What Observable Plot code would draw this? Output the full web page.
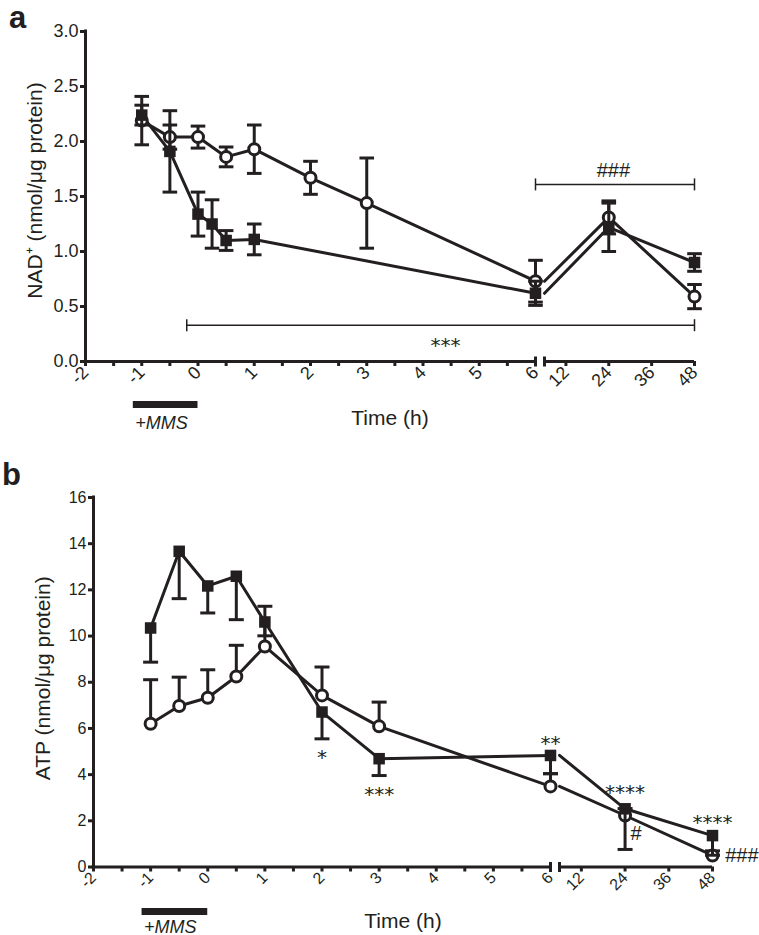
<!DOCTYPE html>
<html>
<head>
<meta charset="utf-8">
<script src="https://cdn.jsdelivr.net/npm/d3@7"></script>
<script src="https://cdn.jsdelivr.net/npm/@observablehq/plot@0.6"></script>
<style>
  body { margin: 0; background: #fff; }
  #chart svg { display: block; }
  #chart g[aria-label$="axis tick"] { stroke-width: 3px; }
  #chart .tick line { stroke-width: 3px; }
</style>
</head>
<body>
<div id="chart"></div>
<script>
const INK = "#231f20";

// ---------- Panel a: NAD+ (nmol/µg protein) ----------
const nadSquareTime = [-1, -0.5, 0, 0.25, 0.5, 1, 6, 24, 48];
const nadSquare     = [2.24, 1.91, 1.34, 1.25, 1.10, 1.11, 0.62, 1.22, 0.90];
const nadSquareErr  = [0.09, 0.37, 0.20, 0.22, 0.09, 0.14, 0.11, 0.22, 0.08];
const nadCircleTime = [-1, -0.5, 0, 0.5, 1, 2, 3, 6, 24, 48];
const nadCircle     = [2.19, 2.04, 2.04, 1.86, 1.93, 1.67, 1.44, 0.73, 1.31, 0.59];
const nadCircleErr  = [0.22, 0.11, 0.10, 0.09, 0.22, 0.15, 0.41, 0.19, 0.15, 0.11];
const nadYTicks = [0, 0.5, 1, 1.5, 2, 2.5, 3];
const nadBrackets = [
  {from: -0.2, to: 48, y: 0.33},
  {from: 6, to: 48, y: 1.61}
];
const nadStars  = [{t: 4.4, y: 0.19, label: "***"}];
const nadHashes = [{t: 25.3, y: 1.74, label: "###"}];

// ---------- Panel b: ATP (nmol/µg protein) ----------
const atpTime      = [-1, -0.5, 0, 0.5, 1, 2, 3, 6, 24, 48];
const atpSquare    = [10.35, 13.67, 12.17, 12.59, 10.61, 6.71, 4.69, 4.83, 2.52, 1.36];
const atpSquareErr = [1.48, 2.05, 1.17, 1.88, 0.60, 1.16, 0.73, 0.79, 1.76, 0.85];
const atpCircle    = [6.20, 6.97, 7.33, 8.25, 9.55, 7.43, 6.09, 3.49, 2.23, 0.50];
const atpCircleErr = [1.91, 1.25, 1.21, 1.35, 1.74, 1.23, 1.05, 0.55, 0.30, 0.20];
const atpYTicks = [0, 2, 4, 6, 8, 10, 12, 14, 16];
const atpStars = [
  {t: 2, y: 4.96, label: "*"},
  {t: 3, y: 3.36, label: "***"},
  {t: 6, y: 5.55, label: "**"},
  {t: 24, y: 3.45, label: "****"},
  {t: 48, y: 2.15, label: "****"}
];
const atpHashes = [{t: 27, y: 1.45, label: "#"}];
const atpHashesRight = [{t: 51.5, y: 0.50, label: "###"}];

// ---------- shared x axis (broken at 6 h) ----------
const BREAK = 6, BREAK2 = 6 + 1e-6, TMAX = 48;
const xTicks = [-2, -1.5, -1, -0.5, 0, 0.5, 1, 1.5, 2, 2.5, 3, 3.5, 4, 4.5, 5, 5.5, 6, 12, 24, 36, 48];
const mmsStart = -1.15, mmsEnd = 0;
const xLabel = "Time (h)";

function rows(times, vals, errs) {
  return times.map((t, i) => ({t, v: vals[i], e: errs[i]}));
}
function lineRows(r) {
  return [
    ...r.filter(d => d.t <= BREAK).map(d => ({...d, seg: 1, x: d.t})),
    ...r.filter(d => d.t >= BREAK).map(d => ({...d, seg: 2, x: d.t === BREAK ? BREAK2 : d.t}))
  ];
}
const capSymbol = {draw(ctx, size) { const w = Math.sqrt(size / Math.PI); ctx.moveTo(-w, 0); ctx.lineTo(w, 0); }};
const vSymbol = {draw(ctx, size) { const w = Math.sqrt(size / Math.PI); ctx.moveTo(0, -w); ctx.lineTo(0, w); }};

function errMarks(r, mode, capR) {
  const lo = d => mode === "up" ? d.v : d.v - d.e;
  const hi = d => mode === "down" ? d.v : d.v + d.e;
  const caps = [];
  r.forEach(d => {
    if (mode !== "down") caps.push({t: d.t, y: hi(d)});
    if (mode !== "up") caps.push({t: d.t, y: lo(d)});
  });
  return [
    Plot.ruleX(r, {x: "t", y1: lo, y2: hi, stroke: INK, strokeWidth: 3}),
    Plot.dot(caps, {x: "t", y: "y", symbol: capSymbol, r: capR, stroke: INK, strokeWidth: 3, fill: "none"})
  ];
}

function starMarks(data) {
  return Plot.text(data, {x: "t", y: "y", text: "label", fontSize: 20, dy: 5, fontFamily: "DejaVu Sans", fill: INK});
}
function hashMarks(data, anchor) {
  return Plot.text(data, {x: "t", y: "y", text: "label", fontSize: 20, fill: INK, textAnchor: anchor});
}

function panel(o) {
  const sq = rows(o.sqT, o.sq, o.sqE), ci = rows(o.ciT, o.ci, o.ciE);
  const yMin = o.yTicks[0];
  return Plot.plot({
    width: 759,
    height: o.height,
    marginTop: o.top,
    marginBottom: o.height - o.bottom,
    marginLeft: o.xRange[0],
    marginRight: 759 - o.xRange[3],
    style: {fontFamily: "'Liberation Sans', Arial, Helvetica, sans-serif", fontSize: o.tickFont + "px", color: INK, background: "white", overflow: "visible"},
    x: {type: "linear", domain: [-2, BREAK, BREAK2, TMAX], range: o.xRange, ticks: xTicks,
        tickFormat: d => Number.isInteger(d) ? String(d) : "", tickRotate: -45, tickSize: 5, tickPadding: 3, label: null},
    y: {domain: [o.yTicks[0], o.yTicks[o.yTicks.length - 1]], ticks: o.yTicks, tickFormat: o.yFormat, tickSize: 5, tickPadding: 2, label: null},
    marks: [
      // axis lines with break
      Plot.ruleX([-2], {stroke: INK, strokeWidth: 3, strokeLinecap: "square"}),
      Plot.ruleY([yMin], {x1: -2, x2: BREAK, stroke: INK, strokeWidth: 3, strokeLinecap: "square"}),
      Plot.ruleY([yMin], {x1: BREAK2, x2: TMAX, stroke: INK, strokeWidth: 3}),
      Plot.dot([{t: BREAK}, {t: BREAK2}], {x: "t", y: () => yMin, symbol: vSymbol, r: 5, stroke: INK, strokeWidth: 3}),
      // +MMS bar
      Plot.ruleY([{a: mmsStart, b: mmsEnd}], {x1: "a", x2: "b", y: () => yMin, dy: o.mmsDy, stroke: INK, strokeWidth: 7}),
      Plot.text(["+MMS"], {x: () => mmsStart, y: () => yMin, dy: o.mmsTextDy, dx: 2, textAnchor: "start", lineAnchor: "middle", fontStyle: "italic", fontSize: 18, fill: INK}),
      // axis titles
      Plot.text([xLabel], {frameAnchor: "bottom", dy: o.xLabelDy, textAnchor: "middle", lineAnchor: "middle", fontSize: 21, fill: INK}),
      Plot.text([o.yLabel], {frameAnchor: "left", rotate: -90, dx: -50, dy: o.yLabelDy, textAnchor: "middle", lineAnchor: "middle", fontSize: 21, fill: INK}),
      Plot.text([o.letter], {frameAnchor: "top-left", dx: o.letterDx, dy: o.letterDy, textAnchor: "middle", lineAnchor: "middle", fontSize: 31, fontWeight: "bold", fill: INK}),
      // data
      ...(o.extraBefore || []),
      Plot.line(lineRows(ci), {x: "x", y: "v", z: "seg", stroke: INK, strokeWidth: 3}),
      Plot.line(lineRows(sq), {x: "x", y: "v", z: "seg", stroke: INK, strokeWidth: 3}),
      ...errMarks(ci, o.ciMode, o.capR),
      Plot.dot(ci, {x: "t", y: "v", r: 5.5, fill: "white", stroke: INK, strokeWidth: 3}),
      ...errMarks(sq, o.sqMode, o.capR),
      Plot.dot(sq, {x: "t", y: "v", symbol: "square", r: o.sqR, fill: INK}),
      ...(o.extraAfter || [])
    ]
  });
}

const chart = document.getElementById("chart");

chart.append(panel({
  height: 440, top: 31, bottom: 361, xRange: [85, 535, 544, 694], tickFont: 18,
  yTicks: nadYTicks, yFormat: d => d.toFixed(1),
  sqT: nadSquareTime, sq: nadSquare, sqE: nadSquareErr, sqMode: "both",
  ciT: nadCircleTime, ci: nadCircle, ciE: nadCircleErr, ciMode: "both",
  capR: 7.3, sqR: 6.5,
  mmsDy: 43, mmsTextDy: 62, xLabelDy: 57, yLabel: "NAD⁺ (nmol/μg protein)", yLabelDy: -6,
  letter: "a", letterDx: -68, letterDy: -13,
  extraBefore: [
    Plot.ruleY(nadBrackets, {x1: "from", x2: "to", y: "y", stroke: INK, strokeWidth: 1.5}),
    Plot.dot(nadBrackets.flatMap(b => [{t: b.from, y: b.y}, {t: b.to, y: b.y}]), {x: "t", y: "y", symbol: vSymbol, r: 6, stroke: INK, strokeWidth: 1.5}),
    starMarks(nadStars),
    hashMarks(nadHashes, "middle")
  ]
}));

chart.append(panel({
  height: 495, top: 57, bottom: 426.5, xRange: [93, 550, 559, 712], tickFont: 16,
  yTicks: atpYTicks, yFormat: d => String(d),
  sqT: atpTime, sq: atpSquare, sqE: atpSquareErr, sqMode: "down",
  ciT: atpTime, ci: atpCircle, ciE: atpCircleErr, ciMode: "up",
  capR: 7.5, sqR: 6.5,
  mmsDy: 44.5, mmsTextDy: 60, xLabelDy: 54.5, yLabel: "ATP (nmol/μg protein)", yLabelDy: -4,
  letter: "b", letterDx: -82, letterDy: -22,
  extraAfter: [
    starMarks(atpStars),
    hashMarks(atpHashes, "middle"),
    hashMarks(atpHashesRight, "start")
  ]
}));
</script>
</body>
</html>
